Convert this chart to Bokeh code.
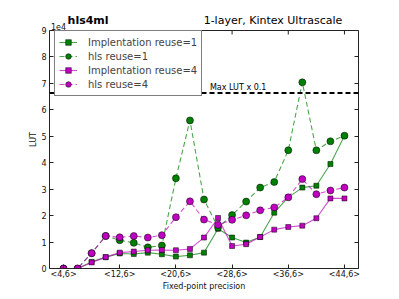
from bokeh.plotting import figure
from bokeh.models import (FixedTicker, LinearAxis, Span, Label, Range1d, Legend)
from bokeh.embed import file_html
from bokeh.resources import INLINE

# ---- data -------------------------------------------------------------
total_bits = [4, 6, 8, 10, 12, 14, 16, 18, 20, 22, 24, 26, 28, 30, 32, 34, 36, 38, 40, 42, 44]
tick_bits = [4, 12, 20, 28, 36, 44]
tick_labels = ["<4,6>", "<12,6>", "<20,6>", "<28,6>", "<36,6>", "<44,6>"]

impl_reuse1 = [0, 0, 2500, 4300, 5700, 5500, 6000, 5400, 4500, 5000, 6000, 15000, 11700,
               9800, 11900, 21100, 26900, 30600, 31300, 39500, 50200]
hls_reuse1 = [0, 0, 5800, 12300, 10700, 9700, 8000, 8700, 34100, 56000, 26100, 15500, 20200,
              25300, 30600, 32700, 44700, 70400, 44700, 48100, 50200]
impl_reuse4 = [0, 0, 2300, 4300, 6000, 6400, 6900, 7000, 6900, 7400, 11700, 19100, 8500,
               9200, 11900, 14700, 15700, 16200, 19000, 26500, 26500]
hls_reuse4 = [0, 0, 5800, 12300, 11800, 12300, 11700, 12600, 19400, 25400, 18500, 16500, 18400,
              20100, 22000, 23100, 26900, 33800, 28100, 29500, 30600]

max_lut_x01 = 66336
y_ticks = [0, 10000, 20000, 30000, 40000, 50000, 60000, 70000, 80000, 90000]
y_top = 90000

FONT = "DejaVu Sans"
GREEN = "#008000"
MAGENTA = "#bf00bf"
AX = "#222222"

# axes box is 309 x 238 px; the frame extends 20 px higher to hold the titles
BOX_H = 238
EXTRA = 20
px_per_y = BOX_H / y_top
p = figure(frame_width=309, frame_height=BOX_H + EXTRA, output_backend="svg",
           toolbar_location=None, title=None,
           x_range=Range1d(2, 46), y_range=Range1d(0, y_top + EXTRA / px_per_y),
           min_border_left=49, min_border_top=10, min_border_right=12, min_border_bottom=10)
p.outline_line_color = None
p.xgrid.visible = False
p.ygrid.visible = False
p.background_fill_color = "white"
p.border_fill_color = "white"

# top edge of the axes box, and its inward ticks
p.add_layout(Span(location=y_top, dimension="width", line_color=AX, line_width=1))
tick_len = 4 / px_per_y
p.segment(x0=tick_bits, y0=[y_top] * len(tick_bits), x1=tick_bits,
          y1=[y_top - tick_len] * len(tick_bits), line_color=AX, line_width=1)

# max LUT line before the legend so the legend draws over it
p.add_layout(Span(location=max_lut_x01, dimension="width", line_color="black",
                  line_width=2, line_dash="5 3"))

series = [
    (impl_reuse1, GREEN, "solid", "square", 5, "Implentation reuse=1"),
    (hls_reuse1, GREEN, "5 3", "circle", 7, "hls reuse=1"),
    (impl_reuse4, MAGENTA, "solid", "square", 5, "Implentation reuse=4"),
    (hls_reuse4, MAGENTA, "5 3", "circle", 7, "hls reuse=4"),
]
items = []
for vals, col, dash, marker, size, lab in series:
    r1 = p.line(total_bits, vals, line_color=col, line_alpha=0.7, line_width=1.1, line_dash=dash)
    r2 = p.scatter(total_bits, vals, marker=marker, size=size, fill_color=col,
                   line_color="black", line_width=0.5)
    items.append((lab, [r1, r2]))

legend = Legend(items=items, location=(5, 172))
legend.label_text_font = FONT
legend.label_text_font_size = "10px"
legend.label_height = 14
legend.glyph_height = 14
legend.glyph_width = 18
legend.label_standoff = 11
legend.padding = 4
legend.spacing = 0
legend.margin = 0
legend.border_line_color = "black"
legend.border_line_width = 1
legend.background_fill_color = "white"
legend.background_fill_alpha = 1
p.add_layout(legend)

# axes
def style_axis(ax):
    ax.major_tick_in = 4
    ax.major_tick_out = 0
    ax.minor_tick_in = 0
    ax.minor_tick_out = 0
    ax.axis_line_color = AX
    ax.major_tick_line_color = AX
    ax.major_label_text_font = FONT
    ax.major_label_text_font_size = "8px"
    ax.major_label_text_color = "#111111"
    ax.axis_label_text_font = FONT
    ax.axis_label_text_font_size = "8px"
    ax.axis_label_text_font_style = "normal"
    ax.axis_label_text_color = "#111111"

xa = p.xaxis[0]
style_axis(xa)
xa.ticker = FixedTicker(ticks=tick_bits)
xa.major_label_overrides = {b: l for b, l in zip(tick_bits, tick_labels)}
xa.major_label_standoff = 1
xa.axis_label = "Fixed-point precision"
xa.axis_label_standoff = 0

ya = p.yaxis[0]
style_axis(ya)
ya.bounds = (0, y_top)
ya.ticker = FixedTicker(ticks=y_ticks)
ya.major_label_overrides = {v: str(v // 10000) for v in y_ticks}
ya.major_label_standoff = 3
ya.axis_label = "LUT"
ya.axis_label_standoff = 0

right = LinearAxis(ticker=FixedTicker(ticks=y_ticks), bounds=(0, y_top))
style_axis(right)
right.major_label_text_color = None
right.major_label_standoff = 0
p.add_layout(right, "right")

# texts
y_title = y_top + 10 / px_per_y
p.add_layout(Label(x=4.57, y=y_title, text="hls4ml", text_font=FONT, text_font_size="11px",
                   text_font_style="bold", text_baseline="middle", text_color="black"))
p.add_layout(Label(x=43.7, y=y_title, text="1-layer, Kintex Ultrascale", text_font=FONT,
                   text_font_size="11px", text_align="right", text_baseline="middle",
                   text_color="black"))
p.add_layout(Label(x=2.2, y=y_top + 4 / px_per_y, text="1e4", text_font=FONT,
                   text_font_size="8px", text_baseline="middle", text_color="#111111"))
p.add_layout(Label(x=24.85, y=68600, text="Max LUT x 0.1", text_font=FONT,
                   text_font_size="8px", text_baseline="middle", text_color="black"))

open("out.html", "w").write(file_html(p, INLINE))
